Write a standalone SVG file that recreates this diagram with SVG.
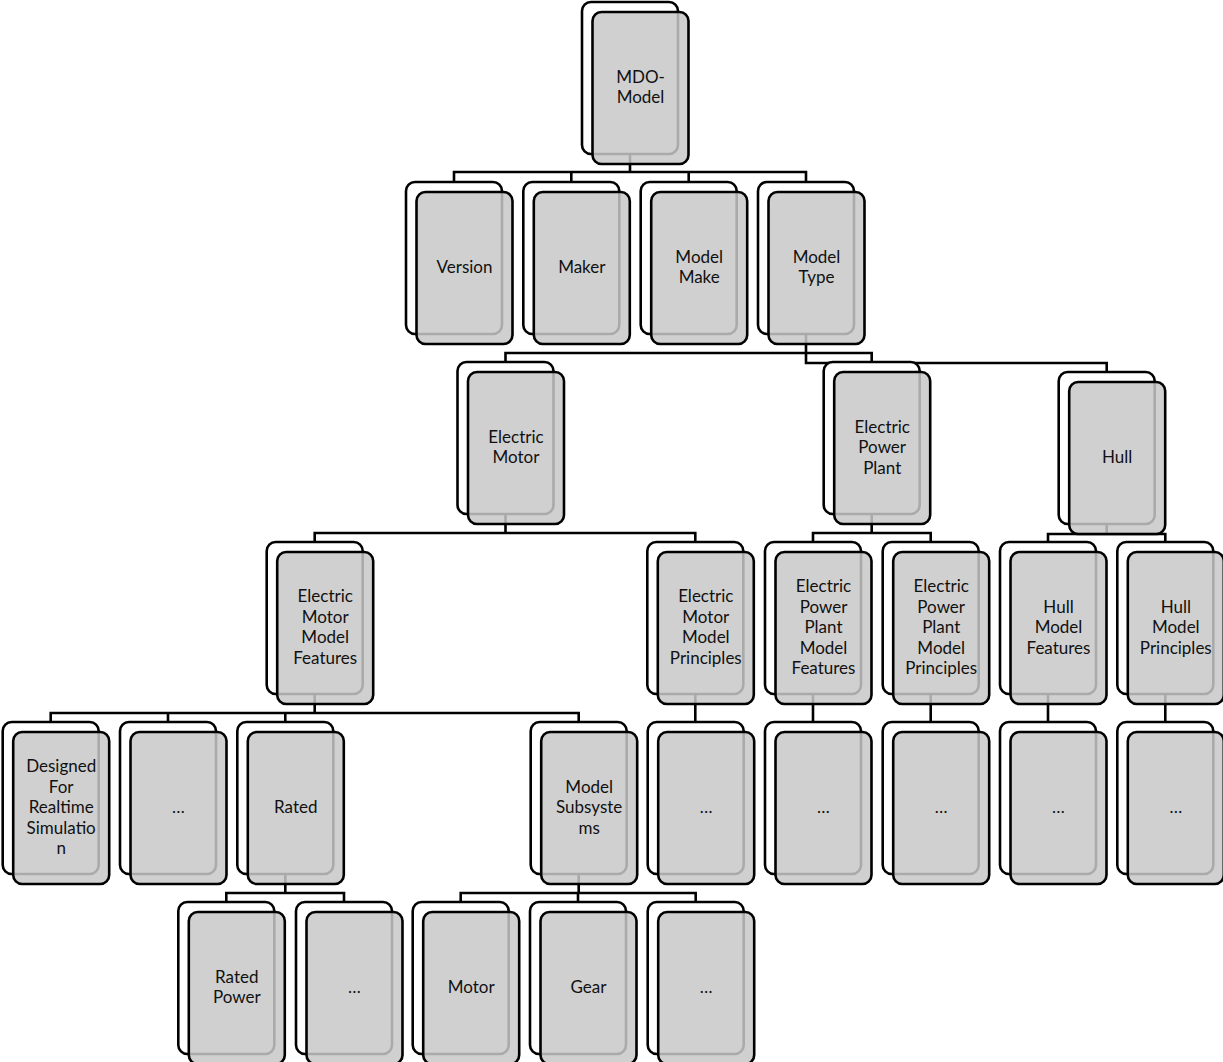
<svg xmlns="http://www.w3.org/2000/svg" width="1223" height="1062" viewBox="0 0 1223 1062">
<style>
.b{fill:#fff;stroke:#000;stroke-width:2.6}
.f{fill:#c8c8c8;fill-opacity:0.85;stroke:#000;stroke-width:2.6}
.c{fill:none;stroke:#000;stroke-width:2.6}
text{font-family:Lato,"Open Sans","Liberation Sans",sans-serif;font-size:17px;fill:#111;text-anchor:middle}
</style>
<defs>
<rect id="bk" width="96" height="152" rx="9"/>
</defs>
<g id="connectors" class="c">
<path d="M630,154V172M454,182V172H806V182M571.3,172V182M688.7,172V182"/>
<path d="M806,334V363H1106.7V372M505.5,362V353H871.7V362"/>
<path d="M505.5,514V533M314.7,542V533H695.3V542"/>
<path d="M871.7,514V533M813,542V533H930.7V542"/>
<path d="M1106.7,524V534M1048,542V534H1165.3V542"/>
<path d="M314.7,694V713M50.7,722V713H578.7V722M168,713V722M285.3,713V722"/>
<path d="M695.3,694V722M813,694V722M930.7,694V722M1048,694V722M1165.3,694V722"/>
<path d="M285.3,874V893M226.3,902V893H344V902"/>
<path d="M578.7,874V893M460.7,902V893H695.7V902M578,893V902"/>
</g>

<g id="mdo-model"><use href="#bk" class="b" x="582" y="2"/><use href="#bk" class="f" x="592.5" y="12"/><text x="640.5" y="82.75">MDO-</text><text x="640.5" y="103.25">Model</text></g>

<g id="version"><use href="#bk" class="b" x="406" y="182"/><use href="#bk" class="f" x="416.5" y="192"/><text x="464.5" y="273">Version</text></g>
<g id="maker"><use href="#bk" class="b" x="523.3" y="182"/><use href="#bk" class="f" x="533.8" y="192"/><text x="581.8" y="273">Maker</text></g>
<g id="model-make"><use href="#bk" class="b" x="640.7" y="182"/><use href="#bk" class="f" x="651.2" y="192"/><text x="699.2" y="262.75">Model</text><text x="699.2" y="283.25">Make</text></g>
<g id="model-type"><use href="#bk" class="b" x="758" y="182"/><use href="#bk" class="f" x="768.5" y="192"/><text x="816.5" y="262.75">Model</text><text x="816.5" y="283.25">Type</text></g>

<g id="electric-motor"><use href="#bk" class="b" x="457.5" y="362"/><use href="#bk" class="f" x="468" y="372"/><text x="516" y="442.75">Electric</text><text x="516" y="463.25">Motor</text></g>
<g id="electric-power-plant"><use href="#bk" class="b" x="823.7" y="362"/><use href="#bk" class="f" x="834.2" y="372"/><text x="882.2" y="432.5">Electric</text><text x="882.2" y="453">Power</text><text x="882.2" y="473.5">Plant</text></g>
<g id="hull"><use href="#bk" class="b" x="1058.7" y="372"/><use href="#bk" class="f" x="1069.2" y="382"/><text x="1117.2" y="463">Hull</text></g>

<g id="em-model-features"><use href="#bk" class="b" x="266.7" y="542"/><use href="#bk" class="f" x="277.2" y="552"/><text x="325.2" y="602.25">Electric</text><text x="325.2" y="622.75">Motor</text><text x="325.2" y="643.25">Model</text><text x="325.2" y="663.75">Features</text></g>
<g id="em-model-principles"><use href="#bk" class="b" x="647.3" y="542"/><use href="#bk" class="f" x="657.8" y="552"/><text x="705.8" y="602.25">Electric</text><text x="705.8" y="622.75">Motor</text><text x="705.8" y="643.25">Model</text><text x="705.8" y="663.75">Principles</text></g>
<g id="epp-model-features"><use href="#bk" class="b" x="765" y="542"/><use href="#bk" class="f" x="775.5" y="552"/><text x="823.5" y="592">Electric</text><text x="823.5" y="612.5">Power</text><text x="823.5" y="633">Plant</text><text x="823.5" y="653.5">Model</text><text x="823.5" y="674">Features</text></g>
<g id="epp-model-principles"><use href="#bk" class="b" x="882.7" y="542"/><use href="#bk" class="f" x="893.2" y="552"/><text x="941.2" y="592">Electric</text><text x="941.2" y="612.5">Power</text><text x="941.2" y="633">Plant</text><text x="941.2" y="653.5">Model</text><text x="941.2" y="674">Principles</text></g>
<g id="hull-model-features"><use href="#bk" class="b" x="1000" y="542"/><use href="#bk" class="f" x="1010.5" y="552"/><text x="1058.5" y="612.5">Hull</text><text x="1058.5" y="633">Model</text><text x="1058.5" y="653.5">Features</text></g>
<g id="hull-model-principles"><use href="#bk" class="b" x="1117.3" y="542"/><use href="#bk" class="f" x="1127.8" y="552"/><text x="1175.8" y="612.5">Hull</text><text x="1175.8" y="633">Model</text><text x="1175.8" y="653.5">Principles</text></g>

<g id="designed-for-realtime"><use href="#bk" class="b" x="2.7" y="722"/><use href="#bk" class="f" x="13.2" y="732"/><text x="61.2" y="772">Designed</text><text x="61.2" y="792.5">For</text><text x="61.2" y="813">Realtime</text><text x="61.2" y="833.5">Simulatio</text><text x="61.2" y="854">n</text></g>
<g id="emmf-more"><use href="#bk" class="b" x="120" y="722"/><use href="#bk" class="f" x="130.5" y="732"/><text x="178.5" y="813">…</text></g>
<g id="rated"><use href="#bk" class="b" x="237.3" y="722"/><use href="#bk" class="f" x="247.8" y="732"/><text x="295.8" y="813">Rated</text></g>
<g id="model-subsystems"><use href="#bk" class="b" x="530.7" y="722"/><use href="#bk" class="f" x="541.2" y="732"/><text x="589.2" y="792.5">Model</text><text x="589.2" y="813">Subsyste</text><text x="589.2" y="833.5">ms</text></g>
<g id="emmp-more"><use href="#bk" class="b" x="647.7" y="722"/><use href="#bk" class="f" x="658.2" y="732"/><text x="706.2" y="813">…</text></g>
<g id="eppmf-more"><use href="#bk" class="b" x="765" y="722"/><use href="#bk" class="f" x="775.5" y="732"/><text x="823.5" y="813">…</text></g>
<g id="eppmp-more"><use href="#bk" class="b" x="882.7" y="722"/><use href="#bk" class="f" x="893.2" y="732"/><text x="941.2" y="813">…</text></g>
<g id="hmf-more"><use href="#bk" class="b" x="1000" y="722"/><use href="#bk" class="f" x="1010.5" y="732"/><text x="1058.5" y="813">…</text></g>
<g id="hmp-more"><use href="#bk" class="b" x="1117.3" y="722"/><use href="#bk" class="f" x="1127.8" y="732"/><text x="1175.8" y="813">…</text></g>

<g id="rated-power"><use href="#bk" class="b" x="178.3" y="902"/><use href="#bk" class="f" x="188.8" y="912"/><text x="236.8" y="982.75">Rated</text><text x="236.8" y="1003.25">Power</text></g>
<g id="rated-more"><use href="#bk" class="b" x="296" y="902"/><use href="#bk" class="f" x="306.5" y="912"/><text x="354.5" y="993">…</text></g>
<g id="motor"><use href="#bk" class="b" x="412.7" y="902"/><use href="#bk" class="f" x="423.2" y="912"/><text x="471.2" y="993">Motor</text></g>
<g id="gear"><use href="#bk" class="b" x="530" y="902"/><use href="#bk" class="f" x="540.5" y="912"/><text x="588.5" y="993">Gear</text></g>
<g id="subsystems-more"><use href="#bk" class="b" x="647.7" y="902"/><use href="#bk" class="f" x="658.2" y="912"/><text x="706.2" y="993">…</text></g>
</svg>
